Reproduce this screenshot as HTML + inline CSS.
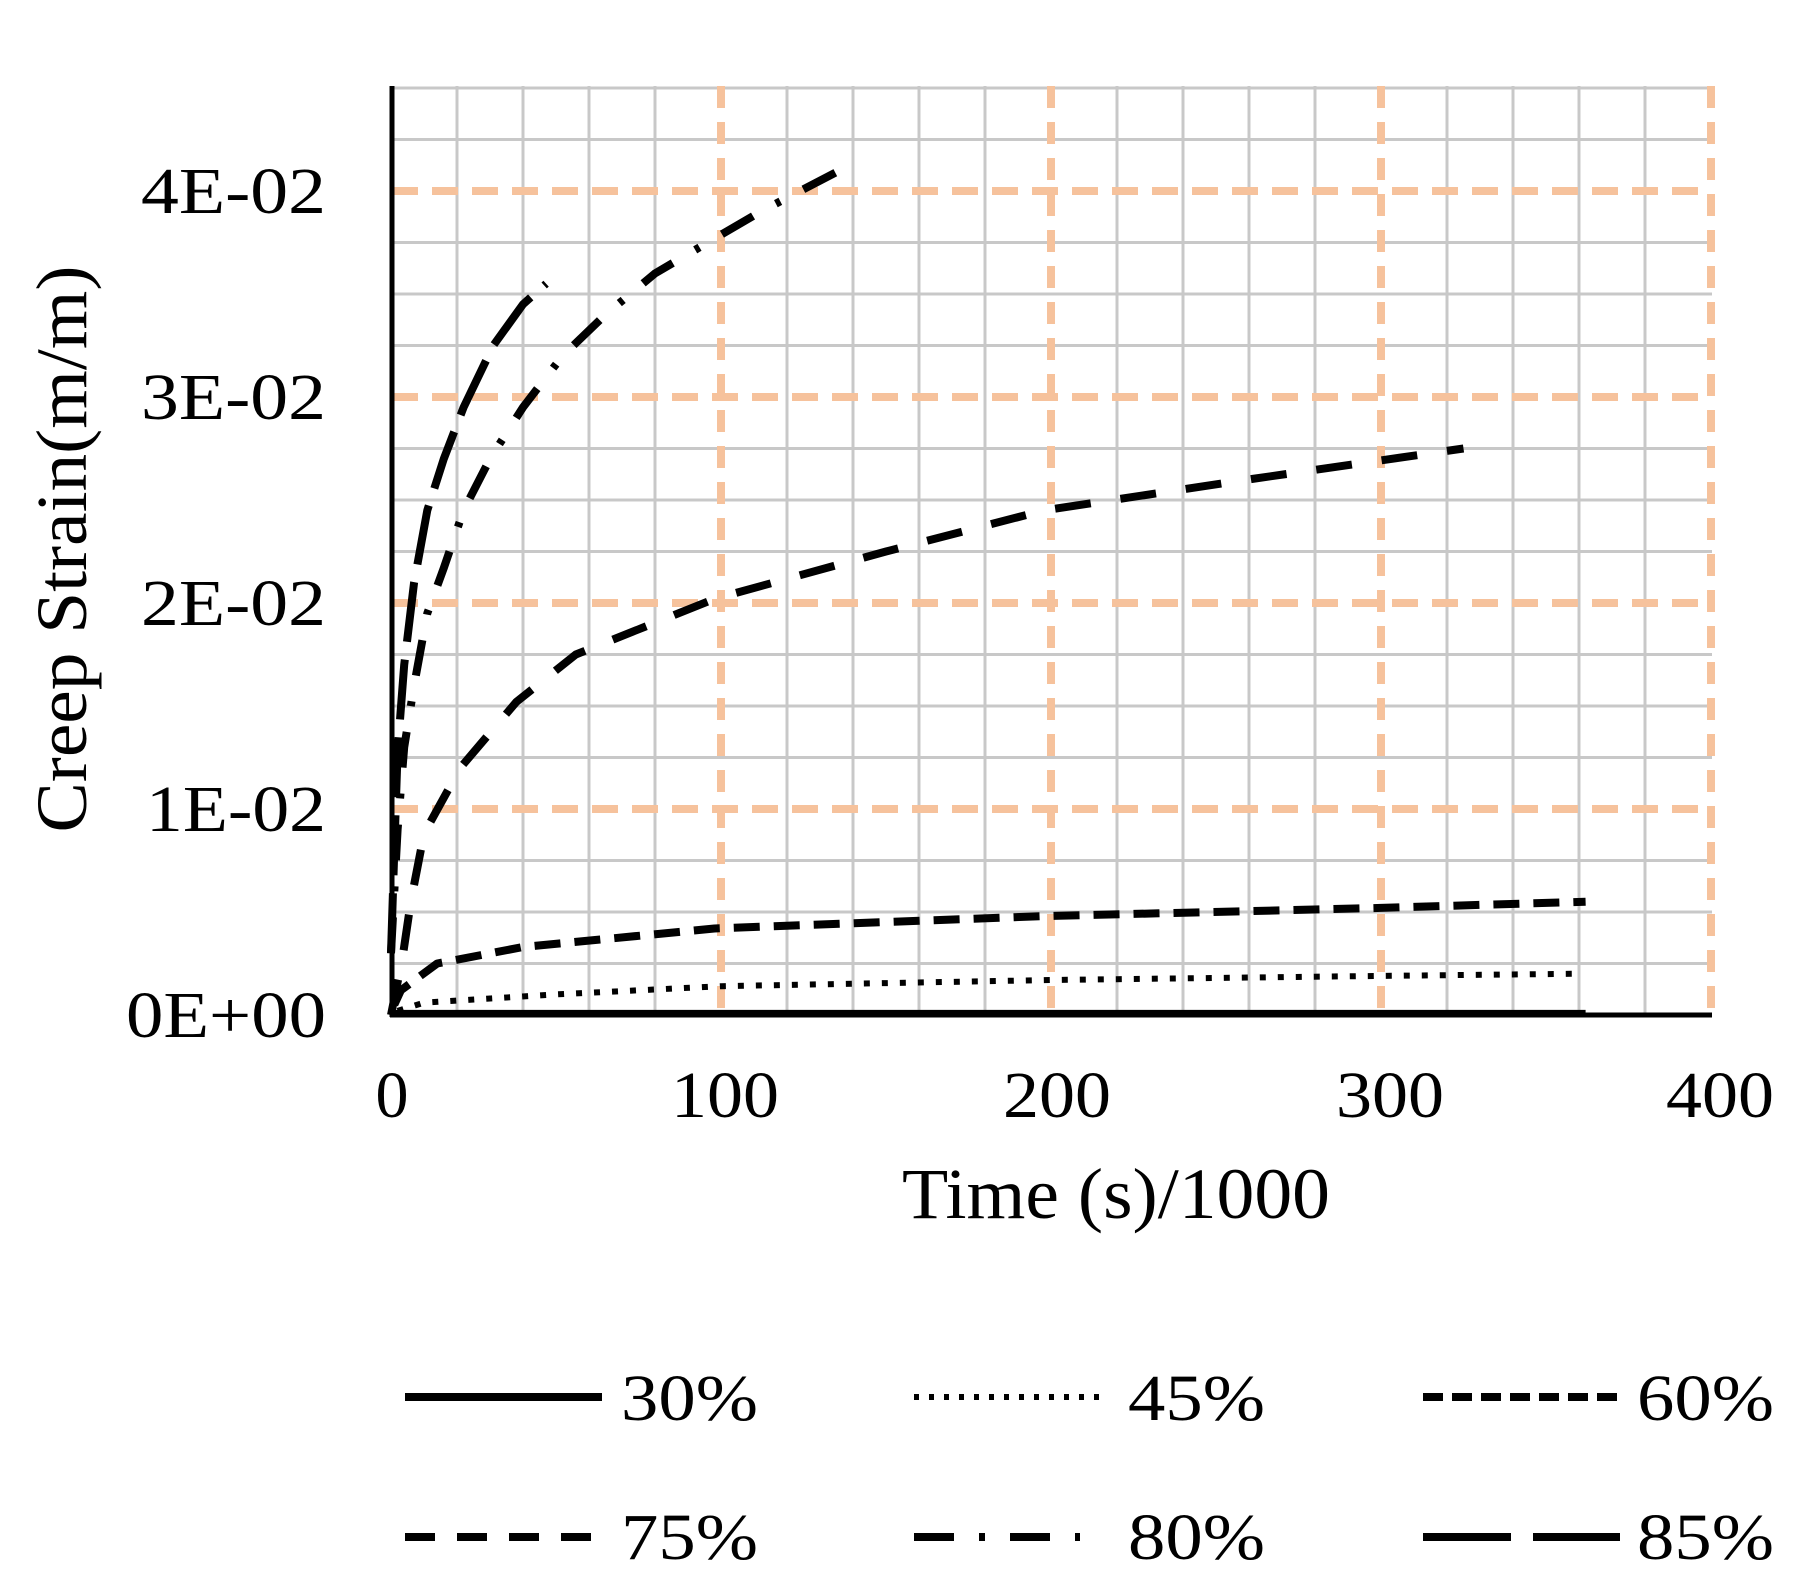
<!DOCTYPE html>
<html><head><meta charset="utf-8"><style>
html,body{margin:0;padding:0;background:#fff;}
svg{display:block;}
text{font-family:"Liberation Serif",serif;fill:#000;}
</style></head><body>
<svg id="s" width="1803" height="1585" viewBox="0 0 1803 1585" xmlns="http://www.w3.org/2000/svg">
<g id="grid"></g>
<g id="series" fill="none" stroke="#000" stroke-linejoin="round"></g>
<line x1="392" y1="86" x2="392" y2="1017" stroke="#000" stroke-width="5"/>
<line x1="390" y1="1015" x2="1712" y2="1015" stroke="#000" stroke-width="5"/>
<g font-size="66" text-anchor="end">
<text x="326" y="1037" textLength="200" lengthAdjust="spacingAndGlyphs">0E+00</text>
<text x="326" y="831" textLength="180" lengthAdjust="spacingAndGlyphs">1E-02</text>
<text x="326" y="625" textLength="185" lengthAdjust="spacingAndGlyphs">2E-02</text>
<text x="326" y="419" textLength="185" lengthAdjust="spacingAndGlyphs">3E-02</text>
<text x="326" y="213" textLength="185" lengthAdjust="spacingAndGlyphs">4E-02</text>
</g>
<g font-size="66" text-anchor="middle">
<text x="392" y="1117">0</text>
<text x="725" y="1117" textLength="108" lengthAdjust="spacingAndGlyphs">100</text>
<text x="1057" y="1117" textLength="108" lengthAdjust="spacingAndGlyphs">200</text>
<text x="1390" y="1117" textLength="108" lengthAdjust="spacingAndGlyphs">300</text>
<text x="1720" y="1117" textLength="108" lengthAdjust="spacingAndGlyphs">400</text>
</g>
<text x="902" y="1218" font-size="72" textLength="428" lengthAdjust="spacingAndGlyphs">Time (s)/1000</text>
<text transform="translate(86,549) rotate(-90)" font-size="72" text-anchor="middle" textLength="567" lengthAdjust="spacingAndGlyphs">Creep Strain(m/m)</text>
<g stroke="#000" stroke-width="8" fill="none">
<line x1="405" y1="1397" x2="602" y2="1397"/>
<line x1="914" y1="1397" x2="1099" y2="1397" stroke-width="6" stroke-dasharray="5,10"/>
<line x1="1423" y1="1397" x2="1620" y2="1397" stroke-dasharray="20,9"/>
<line x1="405" y1="1537" x2="602" y2="1537" stroke-dasharray="30,22"/>
<line x1="914" y1="1537" x2="1080" y2="1537" stroke-dasharray="40,25,6,25"/>
<line x1="1423" y1="1537" x2="1620" y2="1537" stroke-dasharray="88,22"/>
</g>
<g font-size="66">
<text x="621" y="1420" textLength="137" lengthAdjust="spacingAndGlyphs">30%</text>
<text x="1128" y="1420" textLength="137" lengthAdjust="spacingAndGlyphs">45%</text>
<text x="1637" y="1420" textLength="137" lengthAdjust="spacingAndGlyphs">60%</text>
<text x="621" y="1559" textLength="137" lengthAdjust="spacingAndGlyphs">75%</text>
<text x="1128" y="1559" textLength="137" lengthAdjust="spacingAndGlyphs">80%</text>
<text x="1637" y="1559" textLength="137" lengthAdjust="spacingAndGlyphs">85%</text>
</g>
</svg>
<script>
(function(){
var X0=391,SX=3.3,Y0=1015,SY=206;
function px(t){return X0+t*SX;} function py(v){return Y0-v*SY;}
var g=document.getElementById('grid'),h='';
for(var t=20;t<=400;t+=20){ if(t%100) h+='<line x1="'+px(t)+'" y1="86" x2="'+px(t)+'" y2="1015" stroke="#c8c8c8" stroke-width="3"/>'; }
for(var v=0.25;v<=4.51;v+=0.25){ if(Math.abs(v-Math.round(v))>0.01) h+='<line x1="390" y1="'+py(v)+'" x2="1712" y2="'+py(v)+'" stroke="#c8c8c8" stroke-width="3"/>'; }
for(var t=100;t<=400;t+=100) h+='<line x1="'+px(t)+'" y1="86" x2="'+px(t)+'" y2="1015" stroke="#f6c29c" stroke-width="8" stroke-dasharray="22,14"/>';
for(var v=1;v<=4;v++) h+='<line x1="392" y1="'+py(v)+'" x2="1712" y2="'+py(v)+'" stroke="#f6c29c" stroke-width="8" stroke-dasharray="26,14"/>';
g.innerHTML=h;
function path(pts){return pts.map(function(p,i){return (i?'L':'M')+px(p[0]).toFixed(1)+' '+py(p[1]).toFixed(1);}).join(' ');}
var S=[
 {pts:[[0,0.01],[362,0.01]],da:'',w:6},
 {pts:[[2,0.02],[10,0.06],[50,0.1],[100,0.14],[200,0.17],[300,0.19],[358,0.2]],da:'6,12',w:6},
 {pts:[[1,0.05],[3,0.12],[14,0.25],[40,0.33],[98,0.42],[198,0.48],[300,0.52],[362,0.55]],da:'26,14',w:8},
 {pts:[[0,0.0],[3.5,0.28],[6,0.55],[10,0.88],[21,1.2],[38,1.52],[56,1.75],[98,2.02],[150,2.25],[198,2.45],[260,2.6],[325,2.75]],da:'36,30',w:8},
 {pts:[[0,0.3],[2,0.9],[4,1.3],[7,1.6],[11,1.95],[16,2.17],[22,2.45],[30,2.7],[40,2.95],[52,3.2],[65,3.4],[80,3.6],[96,3.75],[112,3.9],[136,4.1]],da:'36,26,5,26',w:8},
 {pts:[[0,0.3],[1,0.8],[2,1.28],[4,1.7],[7,2.1],[11,2.45],[16,2.7],[22,2.95],[31,3.25],[40,3.45],[47,3.55]],da:'60,18',w:8}
];
var s=document.getElementById('series'),o='';
S.forEach(function(c){o+='<path d="'+path(c.pts)+'" stroke-width="'+c.w+'"'+(c.da?' stroke-dasharray="'+c.da+'"':'')+' stroke-linecap="butt"/>';});
s.innerHTML=o;
})();
</script>
</body></html>
